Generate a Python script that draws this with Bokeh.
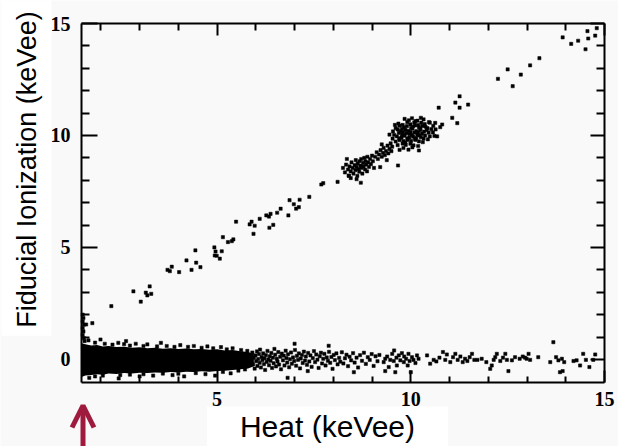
from math import pi
from bokeh.plotting import figure
from bokeh.models import Range1d, LinearAxis, FixedTicker, Label, Arrow, OpenHead
from bokeh.embed import file_html
from bokeh.resources import INLINE

# ---- axis extents and ticks ----
x_lo, x_hi = 1.5, 15.0
y_lo, y_hi = -1.03, 15.0
x_major = [5, 10, 15]
x_minor = [2, 3, 4, 6, 7, 8, 9, 11, 12, 13, 14]
y_major = [0, 5, 10, 15]
y_minor = [1, 2, 3, 4, 6, 7, 8, 9, 11, 12, 13, 14]

# ---- dense low-energy band (saturated core envelope) ----
core_x  = [1.50, 1.60, 1.75, 1.90, 2.05, 2.20, 2.40, 2.60, 2.80, 3.00, 3.20, 3.40, 3.60,
           3.80, 4.00, 4.20, 4.40, 4.60, 4.80, 5.00, 5.20, 5.40, 5.60, 5.80, 5.95]
core_hi = [0.72, 0.68, 0.62, 0.64, 0.58, 0.60, 0.55, 0.57, 0.52, 0.54, 0.50, 0.52, 0.48,
           0.50, 0.47, 0.49, 0.45, 0.47, 0.43, 0.45, 0.40, 0.42, 0.36, 0.33, 0.25]
core_lo = [-0.78, -0.72, -0.70, -0.66, -0.68, -0.63, -0.65, -0.61, -0.63, -0.59, -0.61, -0.58, -0.60,
           -0.56, -0.58, -0.55, -0.56, -0.53, -0.55, -0.52, -0.50, -0.47, -0.44, -0.40, -0.30]

# ---- band events at the edges of the core ----
band_edge = [
    (1.53, 2.00), (1.55, 1.85), (1.53, 1.70), (1.56, 1.55), (1.53, 1.40), (1.55, 1.25),
    (1.53, 1.10), (1.56, 0.95), (1.58, 0.82),
    (1.99, 0.89), (1.68, 0.85), (1.85, 0.75), (2.10, 0.70), (2.30, 0.66), (2.45, 0.74),
    (2.60, 0.68), (2.65, 0.82), (2.75, 0.62), (2.90, 0.70), (3.10, 0.60), (3.20, 0.67),
    (3.45, 0.58), (3.55, 0.74), (3.70, 0.60), (3.90, 0.56), (4.05, 0.64), (4.25, 0.56),
    (4.40, 0.60), (4.60, 0.52), (4.75, 0.58), (4.90, 0.50), (5.10, 0.55), (5.25, 0.45),
    (5.40, 0.50), (5.62, 0.42), (5.78, 0.38),
    (1.70, -0.82), (1.85, -0.76), (2.05, -0.72), (2.46, -0.85), (2.50, -0.70), (2.75, -0.68),
    (3.00, -0.76), (3.10, -0.66), (3.35, -0.72), (3.60, -0.63), (3.85, -0.70), (4.00, -0.64),
    (4.15, -0.76), (4.45, -0.61), (4.70, -0.66), (4.95, -0.72), (5.15, -0.56), (5.35, -0.62),
    (5.55, -0.50), (5.72, -0.45),
]

# ---- band events, intermediate heat ----
band_mid = [
    (5.91, 0.31), (5.93, -0.22), (5.95, 0.07), (5.97, -0.41), (5.99, 0.18), (6.01, -0.08),
    (6.03, 0.36), (6.04, -0.29), (6.06, 0.02), (6.08, 0.24), (6.10, -0.15), (6.11, 0.44),
    (6.13, -0.36), (6.15, 0.11), (6.17, -0.03), (6.19, 0.27), (6.21, -0.21), (6.22, 0.05),
    (6.24, -0.47), (6.26, 0.19), (6.28, -0.11), (6.30, 0.38), (6.32, 0.00), (6.34, -0.26),
    (6.36, 0.14), (6.38, -0.06), (6.40, 0.29), (6.42, -0.38), (6.44, 0.08), (6.46, -0.17),
    (6.48, 0.47), (6.50, 0.21), (6.52, -0.31), (6.54, 0.03), (6.56, -0.09), (6.58, 0.33),
    (6.60, -0.23),
    (6.63, 0.12), (6.65, -0.44), (6.67, 0.26), (6.70, -0.04), (6.72, 0.17), (6.74, -0.27),
    (6.77, 0.39), (6.79, 0.06), (6.81, -0.14), (6.83, 0.23), (6.86, -0.35), (6.88, 0.01),
    (6.91, 0.31), (6.93, -0.19), (6.96, 0.09), (6.99, -0.07), (7.01, 0.42), (7.04, -0.28),
    (7.06, 0.16), (7.09, -0.02), (7.11, 0.27), (7.14, -0.40), (7.16, 0.04), (7.19, 0.20),
    (7.21, -0.16), (7.24, 0.35), (7.27, -0.05), (7.29, 0.13), (7.32, -0.24), (7.35, 0.29),
    (7.38, -0.09),
    (7.41, 0.18), (7.44, -0.33), (7.47, 0.06), (7.50, 0.37), (7.53, -0.12), (7.56, 0.22),
    (7.59, -0.01), (7.62, -0.38), (7.65, 0.14), (7.68, 0.30), (7.71, -0.18), (7.74, 0.03),
    (7.77, 0.25), (7.80, -0.27), (7.83, 0.09), (7.86, -0.06), (7.89, 0.34), (7.92, -0.15),
    (7.95, 0.11), (7.98, -0.42), (8.01, 0.20), (8.04, -0.03), (8.08, 0.27), (8.11, -0.22),
    (8.15, 0.07), (8.18, -0.10),
    (8.22, 0.32), (8.26, -0.18), (8.30, 0.05), (8.34, 0.21), (8.38, -0.30), (8.42, 0.12),
    (8.46, -0.04), (8.51, 0.28), (8.55, -0.14), (8.60, 0.08), (8.64, -0.36), (8.69, 0.19),
    (8.74, -0.06), (8.79, 0.30), (8.84, -0.20), (8.89, 0.10), (8.94, -0.02), (8.99, 0.24),
    (9.04, -0.29), (9.09, 0.14), (9.14, -0.08), (9.19, 0.20),
    (6.82, -0.82), (7.00, 0.70), (7.34, -0.52), (7.88, 0.61), (8.53, -0.57), (9.34, -0.52),
    (9.60, -0.57),
]

# ---- band events, high heat (sparse) ----
band_high = [
    (9.30, -0.12), (9.34, 0.03), (9.39, 0.13), (9.43, -0.34), (9.47, -0.02), (9.52, 0.25),
    (9.56, -0.07), (9.57, 0.40), (9.63, 0.08), (9.64, -0.27), (9.69, 0.18), (9.73, -0.04),
    (9.77, 0.28), (9.82, -0.12), (9.83, 0.13), (9.88, 0.03), (9.92, -0.27), (9.94, 0.25),
    (9.97, -0.07), (10.00, -0.57), (10.03, 0.10), (10.07, -0.02), (10.12, -0.16), (10.16, 0.18),
    (10.20, 0.03),
    (10.42, 0.18), (10.50, -0.19), (10.59, -0.02), (10.66, -0.09), (10.74, 0.08), (10.83, 0.33),
    (10.89, -0.02), (10.93, 0.22), (11.02, -0.12), (11.09, 0.10), (11.15, 0.25), (11.21, -0.02),
    (11.28, 0.13), (11.34, -0.12), (11.40, 0.03), (11.46, -0.07), (11.52, 0.10), (11.58, 0.25),
    (11.64, -0.02), (11.72, -0.02), (11.83, 0.03), (11.95, -0.12), (12.05, -0.42), (12.09, -0.27),
    (12.14, -0.02), (12.18, 0.10), (12.22, 0.25), (12.31, -0.07), (12.38, 0.08), (12.44, 0.25),
    (12.48, -0.02), (12.52, -0.52), (12.61, -0.04), (12.69, 0.10), (12.81, 0.03), (12.89, 0.13),
    (12.95, 0.08), (12.99, 0.03), (13.04, 0.25), (13.08, -0.02), (13.29, 0.10), (13.60, -0.12),
    (13.68, 0.77), (13.75, 0.10), (13.81, -0.04), (13.85, -0.57), (13.90, 0.03), (13.92, -0.52),
    (13.96, -0.12), (14.20, -0.07), (14.28, -0.04), (14.37, -0.27), (14.45, 0.25), (14.52, -0.02),
    (14.61, -0.34), (14.71, -0.02), (14.76, 0.22),
]

# ---- electron-recoil (diagonal) events ----
diag = [
    (1.62, 1.56), (1.78, 1.62), (2.27, 2.38), (2.84, 3.04), (3.03, 2.58), (3.16, 2.98),
    (3.20, 2.86), (3.26, 3.26), (3.30, 2.93), (3.72, 4.00), (3.78, 3.94), (3.83, 4.14),
    (4.02, 3.90), (4.21, 4.42), (4.34, 4.00), (4.44, 4.87), (4.46, 4.32), (4.57, 4.12),
    (4.93, 5.00), (4.96, 4.82), (4.94, 4.64), (4.99, 4.63), (5.07, 4.50), (5.12, 4.83),
    (5.15, 5.46), (5.28, 5.24), (5.38, 5.28), (5.42, 5.36), (5.49, 6.15), (5.84, 6.03),
    (5.89, 6.15), (5.97, 5.97), (5.94, 5.61), (6.10, 6.28), (6.27, 6.43), (6.34, 6.38),
    (6.38, 6.50), (6.35, 5.88), (6.45, 6.01), (6.55, 6.55), (6.64, 6.73), (6.84, 6.43),
    (6.87, 7.11), (6.98, 6.93), (7.04, 6.73), (7.11, 6.80), (7.13, 7.13), (7.38, 7.26),
    (7.69, 7.81), (7.74, 7.87), (8.11, 7.93), (8.71, 7.89), (8.40, 8.21), (9.67, 8.66),
    (9.21, 8.59),
    (10.72, 11.24), (11.15, 11.47), (11.26, 11.75), (11.26, 11.24), (11.48, 11.38),
    (11.07, 10.79), (11.20, 10.55), (10.81, 10.49), (10.76, 10.37), (10.68, 9.96),
    (12.25, 12.53), (12.50, 12.95), (12.63, 12.20), (12.84, 12.72), (13.08, 13.13),
    (13.32, 13.45), (13.92, 14.38), (14.14, 14.09), (14.32, 14.23), (14.51, 13.85),
    (14.58, 14.33), (14.76, 14.46), (14.56, 14.66), (14.80, 14.79),
]

# ---- 8.7 keV cluster and bridge ----
cluster_87 = [
    (8.25, 8.55), (8.30, 8.35), (8.33, 8.70), (8.38, 8.48), (8.40, 8.20), (8.42, 8.62),
    (8.45, 8.40), (8.47, 8.80), (8.50, 8.55), (8.52, 8.30), (8.55, 8.68), (8.57, 8.45),
    (8.58, 8.90), (8.60, 8.60), (8.62, 8.20), (8.63, 8.75), (8.65, 8.50), (8.67, 8.38),
    (8.68, 8.85), (8.70, 8.65), (8.72, 8.95), (8.73, 8.55), (8.75, 8.30), (8.77, 8.78),
    (8.78, 8.62), (8.80, 9.00), (8.82, 8.48), (8.83, 8.85), (8.85, 8.70), (8.87, 8.40),
    (8.88, 9.05), (8.90, 8.80), (8.92, 8.60), (8.95, 8.95), (8.97, 8.72), (9.00, 9.10),
    (9.02, 8.85), (9.05, 8.55), (8.60, 8.05), (8.45, 8.10), (8.35, 8.95),
    (9.08, 9.05), (9.12, 9.25), (9.15, 8.95), (9.18, 9.15), (9.22, 9.35), (9.25, 9.05),
    (9.28, 9.22), (9.30, 9.45), (9.33, 9.12), (9.36, 9.30), (9.40, 9.55), (9.42, 9.20),
    (9.45, 9.40), (9.48, 9.65), (9.50, 9.30), (9.52, 9.50), (9.25, 9.60), (9.38, 8.90),
]

# ---- 10.4 keV cluster ----
cluster_10 = [
    (9.84, 10.74), (10.03, 10.77), (10.17, 10.66), (10.33, 10.72), (10.47, 10.60), (10.26, 10.79),
    (9.68, 10.53), (9.79, 10.47), (9.91, 10.60), (9.99, 10.50), (10.09, 10.58), (10.19, 10.46),
    (10.27, 10.57), (10.36, 10.51), (10.49, 10.57), (10.58, 10.43), (10.12, 10.64), (9.95, 10.68),
    (9.61, 10.33), (9.71, 10.44), (9.83, 10.36), (9.90, 10.42), (10.01, 10.34), (10.11, 10.45),
    (10.21, 10.37), (10.30, 10.43), (10.43, 10.33), (10.53, 10.28), (10.64, 10.27), (9.77, 10.30),
    (10.06, 10.40), (10.25, 10.31), (10.38, 10.39),
    (9.54, 10.18), (9.66, 10.27), (9.74, 10.19), (9.86, 10.25), (9.94, 10.21), (10.04, 10.30),
    (10.14, 10.20), (10.24, 10.24), (10.34, 10.17), (10.46, 10.13), (10.57, 10.14), (9.80, 10.15),
    (9.99, 10.15), (10.19, 10.14), (10.41, 10.24),
    (9.57, 10.03), (9.69, 10.12), (9.77, 10.05), (9.89, 10.10), (9.97, 10.06), (10.09, 10.13),
    (10.17, 10.04), (10.29, 10.08), (10.37, 10.00), (10.49, 9.96), (10.61, 9.98), (9.83, 10.01),
    (10.03, 10.02), (10.22, 10.00),
    (9.53, 9.86), (9.64, 9.96), (9.76, 9.90), (9.84, 9.99), (9.96, 9.91), (10.06, 9.95),
    (10.14, 9.89), (10.26, 9.93), (10.33, 9.86), (10.44, 9.83), (9.70, 9.87), (9.91, 9.86),
    (10.11, 9.85),
    (9.61, 9.73), (9.71, 9.79), (9.81, 9.75), (9.92, 9.80), (10.01, 9.76), (10.12, 9.80),
    (10.21, 9.74), (10.31, 9.70), (9.86, 9.69),
    (9.66, 9.57), (9.79, 9.64), (9.87, 9.58), (9.99, 9.63), (10.07, 9.56), (10.19, 9.53),
    (9.81, 9.44), (9.94, 9.37), (10.04, 9.47), (9.71, 9.36),
    (10.21, 9.33), (9.45, 10.04), (10.63, 10.56), (9.59, 10.47),
]

BG = "#f9f9f9"
INK = "black"
ARROW = "#9e1b3e"

W, H = 618, 446
# pixel layout of the data box inside the page
box_l, box_r, box_t, box_b = 81, 604, 23, 382
sx = (box_r - box_l) / (x_hi - x_lo)
sy = (box_b - box_t) / (y_hi - y_lo)
xr = Range1d(x_lo - box_l / sx, x_hi + (W - box_r) / sx)
yr = Range1d(y_lo - (H - box_b) / sy, y_hi + box_t / sy)


def px_x(px):
    return xr.start + px / sx


def px_y(py):
    return yr.end - py / sy


p = figure(width=W, height=H, output_backend="svg", toolbar_location=None,
           x_range=xr, y_range=yr, x_axis_location=None, y_axis_location=None,
           min_border=0, min_border_left=0, min_border_right=0,
           min_border_top=0, min_border_bottom=0)
p.title.visible = False
p.background_fill_color = BG
p.border_fill_color = BG
p.outline_line_color = None
p.xgrid.visible = False
p.ygrid.visible = False


def make_axis(major, minor, loc, bounds, major_in, minor_in, show_labels, standoff=10):
    ax = LinearAxis(ticker=FixedTicker(ticks=major, minor_ticks=minor),
                    fixed_location=loc, bounds=bounds)
    ax.major_tick_in = major_in
    ax.major_tick_out = 0
    ax.minor_tick_in = minor_in
    ax.minor_tick_out = 0
    ax.axis_line_color = INK
    ax.axis_line_width = 2
    ax.major_tick_line_color = INK
    ax.major_tick_line_width = 2
    ax.minor_tick_line_color = INK
    ax.minor_tick_line_width = 2
    if show_labels:
        ax.major_label_text_font = "Liberation Serif"
        ax.major_label_text_font_style = "bold"
        ax.major_label_text_font_size = "20px"
        ax.major_label_text_color = INK
        ax.major_label_standoff = standoff
    else:
        ax.major_label_text_alpha = 0
        ax.major_label_text_font_size = "1px"
        ax.major_label_standoff = 0
    return ax


p.add_layout(make_axis(x_major, x_minor, y_lo, (x_lo, x_hi), 12, 6, True, 9), "below")
p.add_layout(make_axis(x_major, x_minor, y_hi, (x_lo, x_hi), 12, 7, False), "above")
p.add_layout(make_axis(y_major, y_minor, x_lo, (y_lo, y_hi), 16, 8, True, 11), "left")
p.add_layout(make_axis(y_major, y_minor, x_hi, (y_lo, y_hi), 14, 8, False), "right")

# saturated core of the low-energy band
p.varea(x=core_x, y1=core_lo, y2=core_hi, fill_color=INK)

for pts in (band_edge, band_mid, band_high, diag, cluster_87, cluster_10):
    xs = [a for a, b in pts]
    ys = [b for a, b in pts]
    p.scatter(xs, ys, marker="square", size=3.2, fill_color=INK, line_color=INK, line_width=0.5)

# axis titles with their white backing boxes (as on the slide)
ylab = Label(x=px_x(26), y=px_y(166), text="Fiducial Ionization (keVee)", angle=pi / 2,
             text_align="center", text_baseline="middle",
             text_font="Liberation Sans", text_font_size="27px", text_color=INK,
             background_fill_color="white",
             padding=dict(left=8, right=14, top=10, bottom=10))
p.add_layout(ylab)

xlab = Label(x=px_x(327), y=px_y(427), text="Heat (keVee)",
             text_align="center", text_baseline="middle",
             text_font="Liberation Sans", text_font_size="30px", text_color=INK,
             background_fill_color="white",
             padding=dict(left=33, right=33, top=3, bottom=6))
p.add_layout(xlab)

arrow = Arrow(x_start=px_x(82.5), y_start=px_y(448), x_end=px_x(82.5), y_end=px_y(405),
              line_color=ARROW, line_width=5,
              end=OpenHead(size=22, line_width=5, line_color=ARROW))
p.add_layout(arrow)

open("out.html", "w").write(file_html(p, INLINE))
